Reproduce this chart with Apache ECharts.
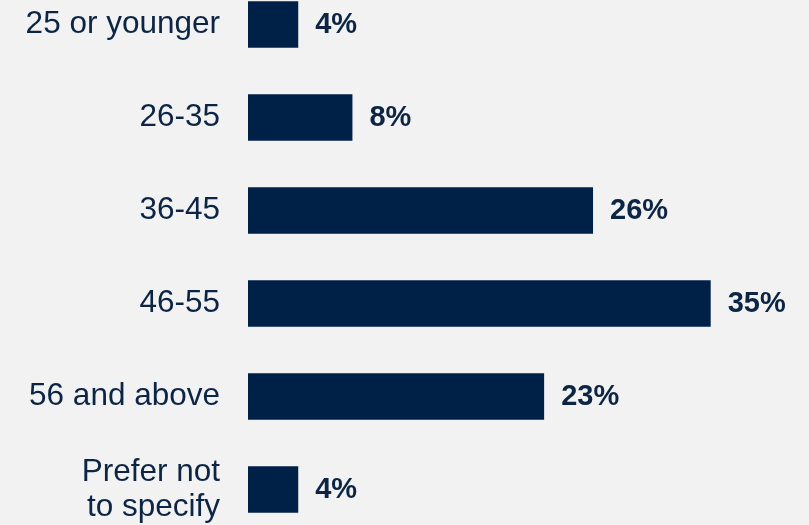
<!DOCTYPE html>
<html>
<head>
<meta charset="utf-8">
<script src="https://cdn.jsdelivr.net/npm/echarts@6/dist/echarts.min.js"></script>
<style>
html,body{margin:0;padding:0;background:#f2f2f2;width:809px;height:525px;overflow:hidden;position:relative;}
#chart{width:809px;height:558px;position:absolute;left:0;top:-22px;}
</style>
</head>
<body>
<div id="chart"></div>
<script>
var categories = ["25 or younger", "26-35", "36-45", "46-55", "56 and above", "Prefer not\nto specify"];
var values = [3.8, 7.9, 26.1, 35.0, 22.4, 3.8];
var valueLabels = ["4%", "8%", "26%", "35%", "23%", "4%"];

var chart = echarts.init(document.getElementById('chart'), null, {renderer: 'canvas'});
chart.setOption({
  backgroundColor: '#f2f2f2',
  animation: false,
  grid: {left: 248, width: 462.7, top: 0, bottom: 0, containLabel: false},
  xAxis: {
    type: 'value', min: 0, max: 35,
    show: false
  },
  yAxis: {
    type: 'category', data: categories, inverse: true,
    axisLine: {show: false}, axisTick: {show: false}, splitLine: {show: false},
    axisLabel: {
      margin: 28, fontSize: 31.5, lineHeight: 35,
      padding: [4, 0, 0, 0],
      fontFamily: 'Liberation Sans, Arial, sans-serif',
      color: '#0c2545', align: 'right'
    }
  },
  series: [{
    type: 'bar', data: values, barWidth: 46.5,
    itemStyle: {color: '#002147'},
    label: {
      show: true, position: 'right', distance: 17,
      fontSize: 29, fontWeight: 'bold',
      padding: [4, 0, 0, 0],
      fontFamily: 'Liberation Sans, Arial, sans-serif',
      color: '#0c2545',
      formatter: function (p) { return valueLabels[p.dataIndex]; }
    }
  }]
});
</script>
</body>
</html>
